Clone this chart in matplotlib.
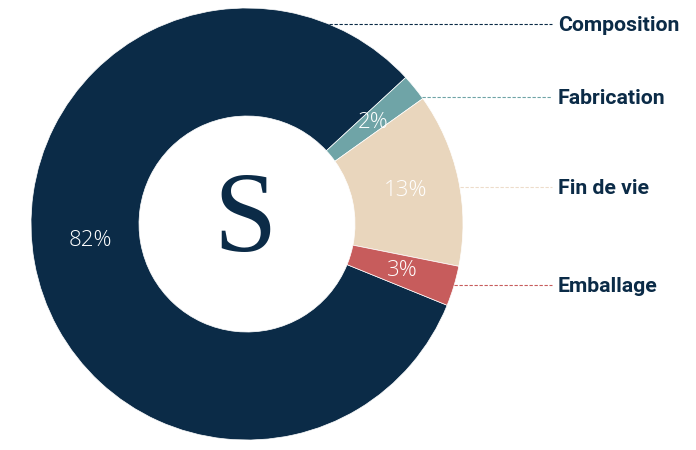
import matplotlib.pyplot as plt

# Données
categories = ['Composition', 'Fabrication', 'Fin de vie', 'Emballage']
values = [82, 2, 13, 3]
colors = ['#0b2b47', '#6fa4a7', '#e9d6bd', '#c75c5c']
label_y = [426, 353, 263, 165]  # hauteur des libellés (pixels depuis le bas)

W, H = 696, 450
cx, cy, R = 247, 226, 216

fig = plt.figure(figsize=(W / 100, H / 100), dpi=100)
ax = fig.add_axes([0, 0, 1, 1])

wedges, texts, autotexts = ax.pie(
    values, colors=colors, center=(cx, cy), radius=R,
    startangle=-22.1, counterclock=False,
    autopct='%d%%', pctdistance=0.75,
    wedgeprops=dict(width=R * 0.5, edgecolor='white', linewidth=0.5),
    textprops=dict(color='white', fontsize=16, family='Open Sans', fontweight=300),
    frame=True,
)
ax.set_xlim(0, W)
ax.set_ylim(0, H)
ax.set_aspect('equal')
ax.axis('off')

# léger ajustement de la position du 82%
autotexts[0].set_position((90, 450 - 240))
autotexts[1].set_position((373, 450 - 123))

# Lettre centrale
ax.text(cx - 2, 227, 'S', ha='center', va='center', fontsize=82,
        family='Liberation Serif', color='#0b2b47')

# Lignes pointillées et libellés
for cat, col, y in zip(categories, colors, label_y):
    dy = y - cy
    x0 = cx + (R ** 2 - dy ** 2) ** 0.5
    lc = col if col != '#e9d6bd' else '#eddcca'
    ax.plot([x0, 552], [y, y], color=lc, linewidth=0.8, linestyle=(0, (3, 1.5)))
    ax.text(558, y - 1.5, cat, ha='left', va='center', fontsize=15.3,
            family='Roboto', fontweight='bold', color='#0b2b47')

fig.savefig('out.png', dpi=100)
